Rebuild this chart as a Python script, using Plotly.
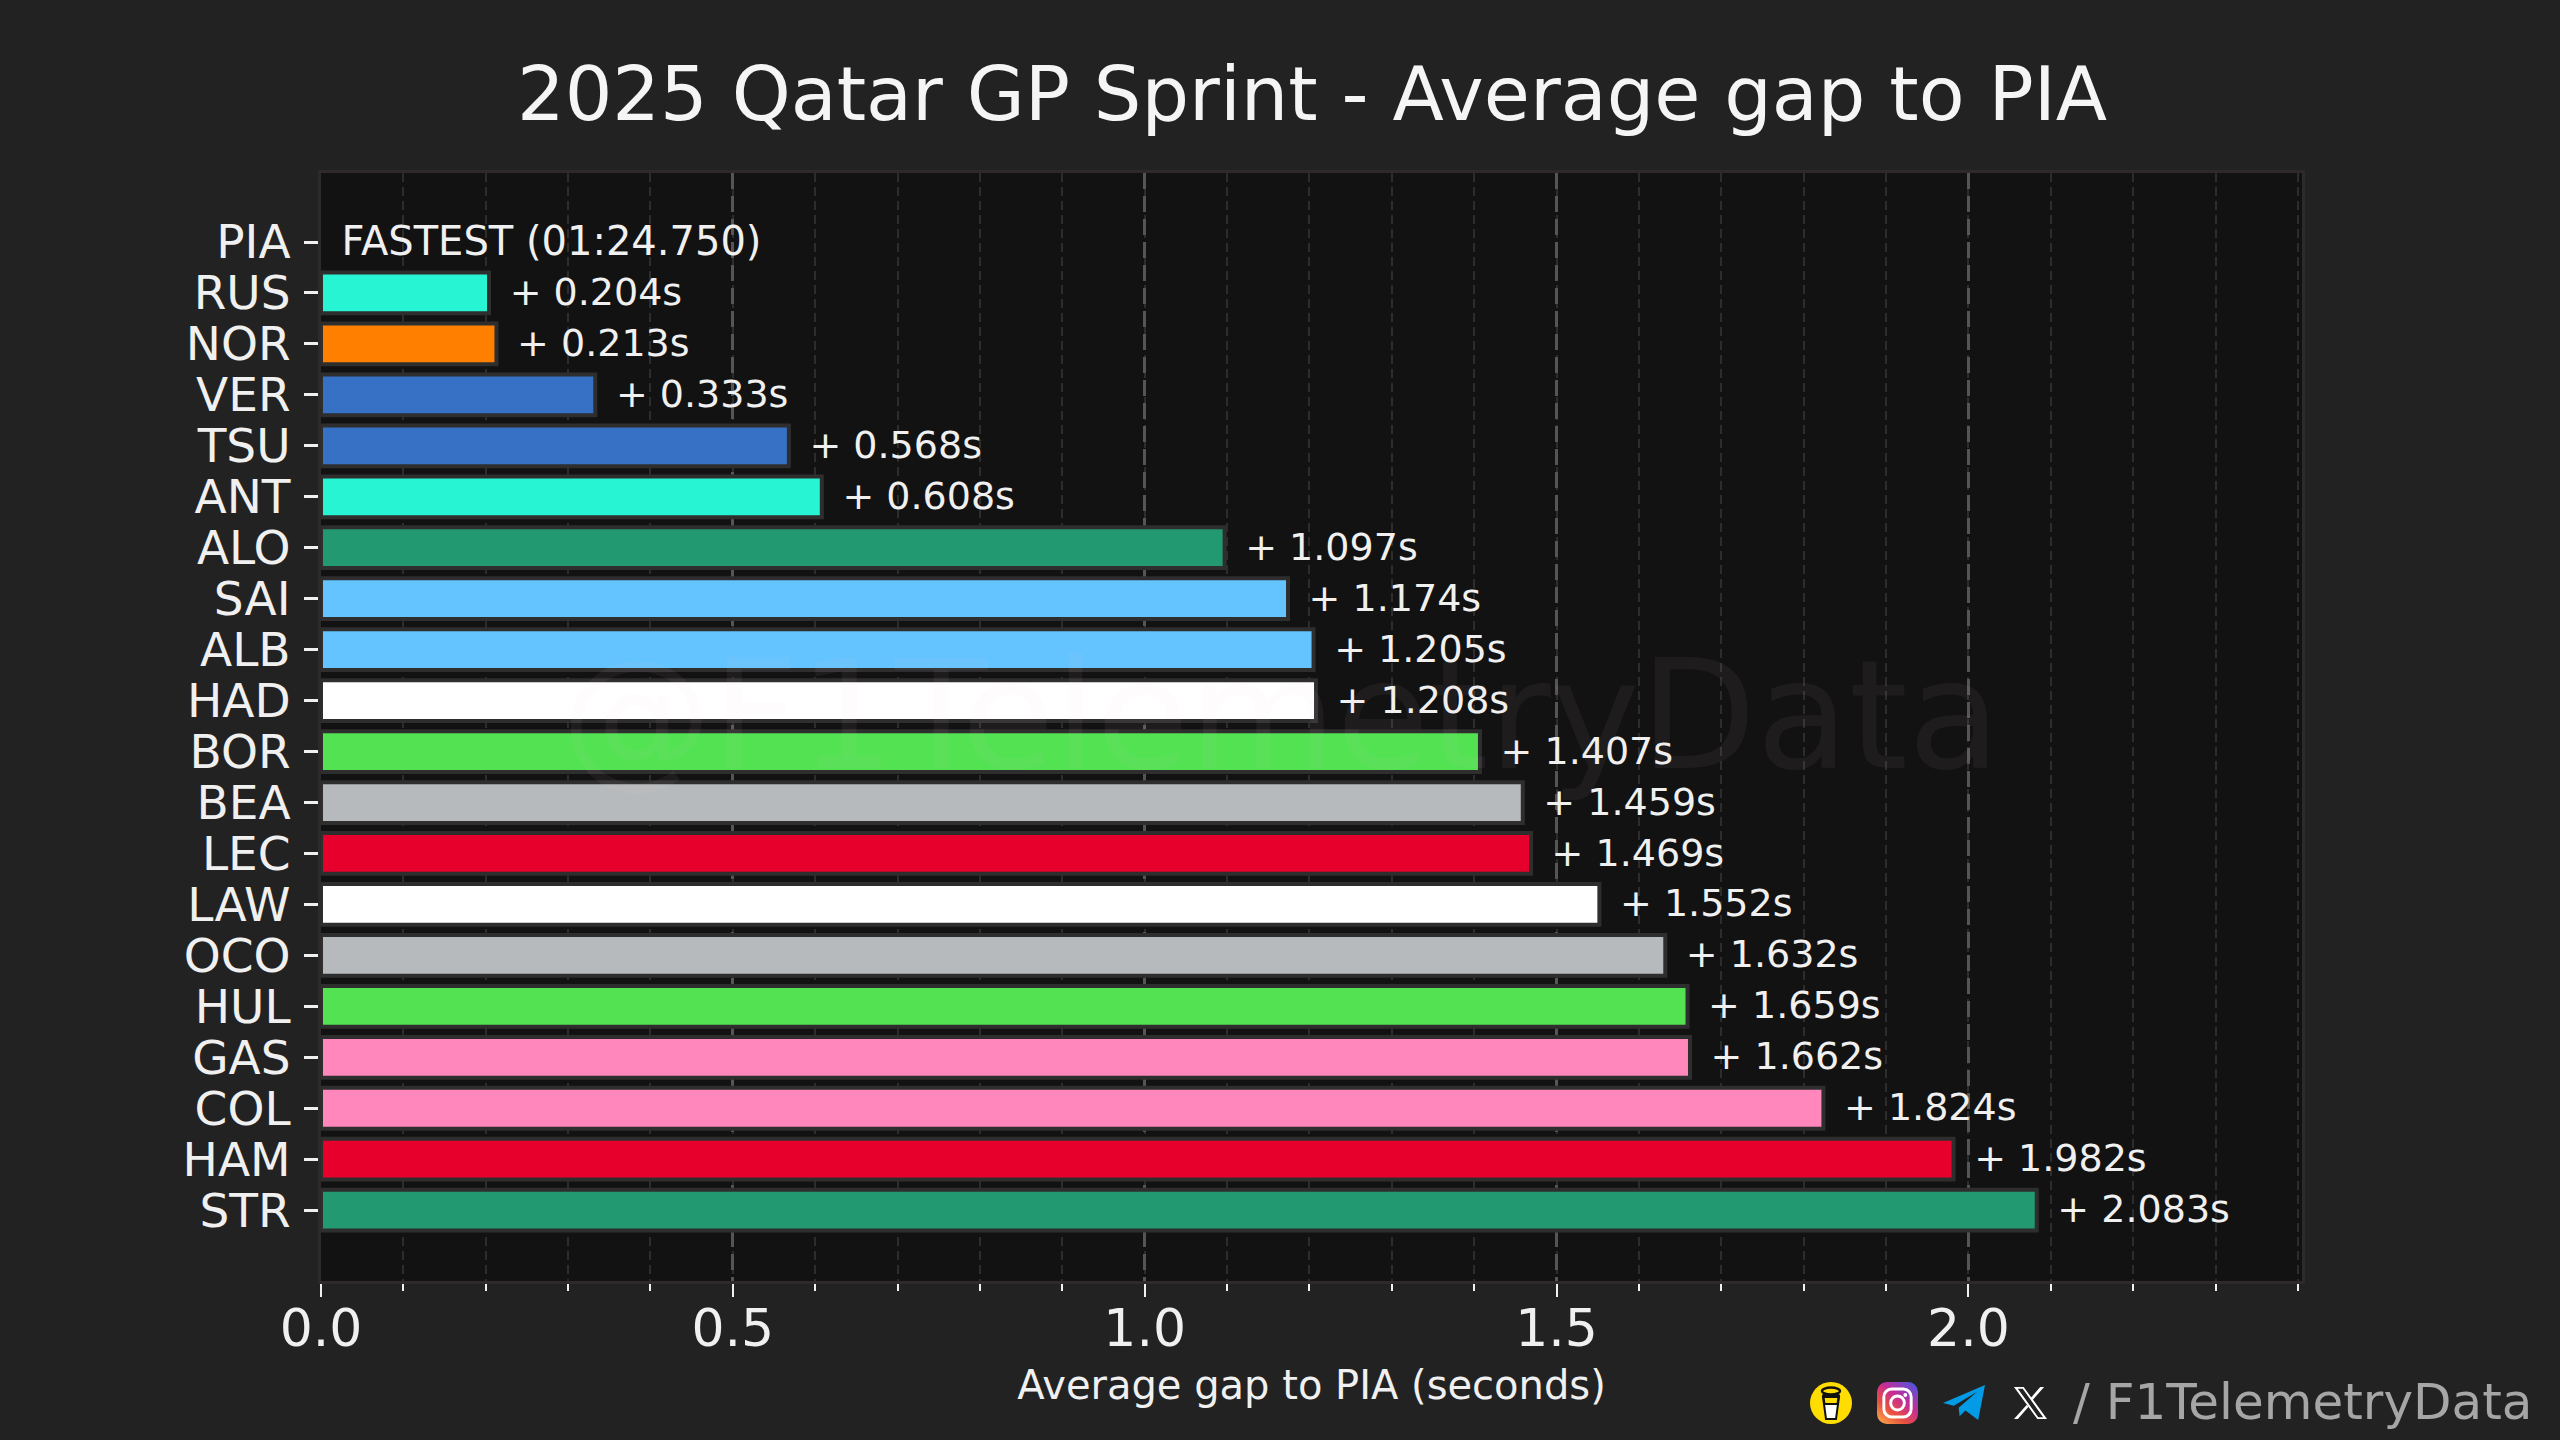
import base64
import plotly.graph_objects as go

drivers = ["PIA","RUS","NOR","VER","TSU","ANT","ALO","SAI","ALB","HAD","BOR","BEA","LEC","LAW","OCO","HUL","GAS","COL","HAM","STR"]
gaps = [0.0,0.204,0.213,0.333,0.568,0.608,1.097,1.174,1.205,1.208,1.407,1.459,1.469,1.552,1.632,1.659,1.662,1.824,1.982,2.083]
bar_colors = ["#FF8000","#27F4D2","#FF8000","#3671C6","#3671C6","#27F4D2","#229971","#64C4FF","#64C4FF","#FFFFFF","#52E252","#B6BABD","#E8002D","#FFFFFF","#B6BABD","#52E252","#FF87BC","#FF87BC","#E8002D","#229971"]
fastest_label = "FASTEST (01:24.750)"
title_text = "2025 Qatar GP Sprint - Average gap to PIA"
xaxis_label = "Average gap to PIA (seconds)"
x_ticks = [0.0, 0.5, 1.0, 1.5, 2.0]

labels = [fastest_label if g == 0 else f"+ {g:.3f}s" for g in gaps]
label_sizes = [40 if g == 0 else 38 for g in gaps]
positions = list(range(len(drivers)))

W, H = 2560, 1440
L, R, T, B = 321, 2302, 173, 1281
FONT = "DejaVu Sans"
TXT = "#f0f0f0"

def px(x): return (x - L) / (R - L)
def py(y): return (B - y) / (B - T)

def uri(svg):
    return "data:image/svg+xml;base64," + base64.b64encode(svg.encode()).decode()

cup = '''<svg xmlns="http://www.w3.org/2000/svg" viewBox="0 0 42 42"><ellipse cx="21" cy="21" rx="21" ry="21" fill="#FFDD00"/>
<path d="M13 15 L29 15 L26 37 L16 37 Z" fill="#fff" stroke="#111" stroke-width="2"/>
<path d="M13.5 15 L28.5 15 L27.5 22 L14.5 22 Z" fill="#FFDD00" stroke="#111" stroke-width="2"/>
<ellipse cx="21" cy="9" rx="9" ry="3.5" fill="none" stroke="#111" stroke-width="2.4"/>
<rect x="12" y="12" width="18" height="3" rx="1.5" fill="#111"/></svg>'''
insta = '''<svg xmlns="http://www.w3.org/2000/svg" viewBox="0 0 42 42"><defs><linearGradient id="g" x1="0" y1="1" x2="0.8" y2="0">
<stop offset="0" stop-color="#FDB44A"/><stop offset="0.35" stop-color="#E8503F"/><stop offset="0.65" stop-color="#C72C95"/><stop offset="1" stop-color="#5B51D8"/></linearGradient></defs>
<rect width="42" height="42" rx="10" fill="url(#g)"/><rect x="7" y="7" width="28" height="28" rx="8" fill="none" stroke="#fff" stroke-width="3"/>
<circle cx="21" cy="21" r="7" fill="none" stroke="#fff" stroke-width="3"/><circle cx="29" cy="13" r="2" fill="#fff"/></svg>'''
telegram = '''<svg xmlns="http://www.w3.org/2000/svg" viewBox="0 0 44 38"><path d="M0 19 L43 0 L36 37 L23 27 L17 33 L16 24 L35 7 L11 22 Z" fill="#039BE5"/></svg>'''
xlogo = '''<svg xmlns="http://www.w3.org/2000/svg" viewBox="0 0 36 36"><path d="M1 1 H11 L35 35 H25 Z M5 3 L26 33 H31 L10 3 Z" fill="#fff" fill-rule="evenodd"/><path d="M32 1 L20 15 L18 13 L28 1 Z M14 20 L16 22 L5 35 H1 Z" fill="#fff"/></svg>'''

images = []
for svg, (x0, y0, x1, y1) in [(cup,(1810,1382,1852,1424)),(insta,(1877,1382,1918,1424)),(telegram,(1943,1385,1986,1421)),(xlogo,(2013,1386,2048,1420))]:
    images.append(dict(source=uri(svg), xref="paper", yref="paper", x=px(x0), y=py(y0),
                       sizex=(x1-x0)/(R-L), sizey=(y1-y0)/(B-T), xanchor="left", yanchor="top",
                       sizing="stretch", layer="above"))

fig = go.Figure()
fig.add_trace(go.Bar(x=gaps[1:], y=positions[1:], orientation="h", width=0.8,
                     marker=dict(color=bar_colors[1:], line=dict(color="#2e2e2e", width=4)),
                     hoverinfo="skip"))
fig.add_trace(go.Scatter(x=[g + 0.025 for g in gaps], y=[p + 0.05 for p in positions],
                         mode="text", text=labels, textposition="middle right",
                         textfont=dict(family=FONT, size=label_sizes, color=TXT),
                         cliponaxis=False, hoverinfo="skip"))

fig.update_layout(
    width=W, height=H, autosize=False, showlegend=False,
    paper_bgcolor="#222222", plot_bgcolor="#121212",
    margin=dict(l=L, r=W-R, t=T, b=H-B, pad=0),
    font=dict(family=FONT, color=TXT),
    title=dict(text=title_text, x=1312/W, xanchor="center", y=1-94/H, yanchor="middle",
               font=dict(family=FONT, size=75, color="#f5f5f5")),
    xaxis=dict(range=[0, 2.405], tickmode="array", tickvals=x_ticks, tickformat=".1f", ticks="outside",
               ticklen=13, tickwidth=2, tickcolor=TXT,
               tickfont=dict(family=FONT, size=52, color=TXT), ticklabelstandoff=-13,
               showgrid=True, gridcolor="#555555", gridwidth=3, griddash="16px,7px",
               minor=dict(dtick=0.1, tick0=0, ticks="outside", ticklen=7, tickwidth=2, tickcolor=TXT,
                          showgrid=True, gridcolor="#2d2d2d", gridwidth=2, griddash="9px,5px"),
               showline=True, linecolor="#2e2a2a", linewidth=3, mirror=True, zeroline=False,
               title=dict(text=xaxis_label, font=dict(family=FONT, size=40, color=TXT), standoff=14),
               automargin=False),
    yaxis=dict(range=[20.39, -1.354], tickmode="array", tickvals=positions, ticktext=drivers,
               ticks="outside", ticklen=14, tickwidth=3, tickcolor=TXT,
               tickfont=dict(family=FONT, size=47, color=TXT), ticklabelstandoff=4,
               showgrid=False, showline=True, linecolor="#2e2a2a", linewidth=3, mirror=True,
               zeroline=False, automargin=False),
    images=images,
    annotations=[
        dict(text="@F1TelemetryData", xref="paper", yref="paper", x=px(1280), y=py(716),
             xanchor="center", yanchor="middle", showarrow=False,
             font=dict(family=FONT, size=151, color="rgba(235,205,205,0.06)")),
        dict(text="/ F1TelemetryData", xref="paper", yref="paper", x=px(2534), y=py(1402),
             xanchor="right", yanchor="middle", showarrow=False,
             font=dict(family=FONT, size=50, color="#a6a6a6")),
    ],
)
fig.write_html("out.html", config={"displayModeBar": False},
               post_script="document.body.style.margin='0';document.body.style.background='#222222';")
